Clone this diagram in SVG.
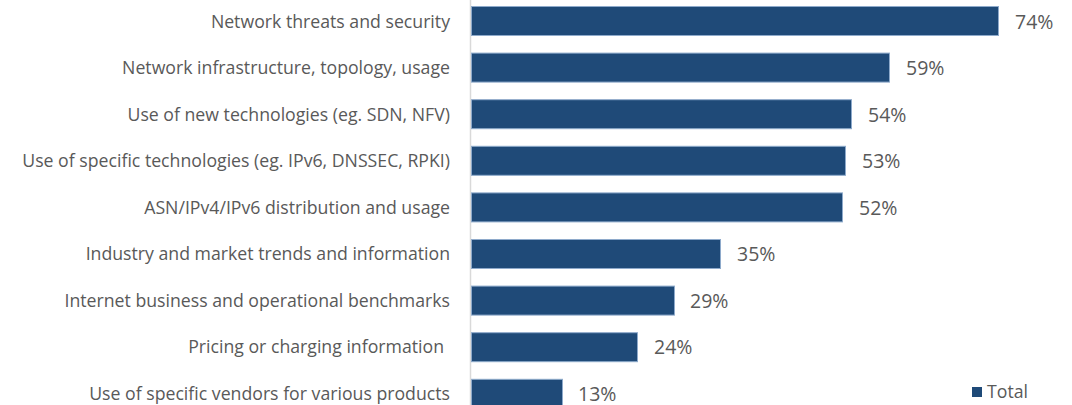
<svg xmlns="http://www.w3.org/2000/svg" width="1072" height="405" viewBox="0 0 1072 405">
<style>
.lbl{font-family:"Open Sans","Liberation Sans",sans-serif;font-size:17.7px;fill:#595959;text-anchor:end}
.val{font-family:"Open Sans","Liberation Sans",sans-serif;font-size:19.5px;fill:#595959}
.bar{fill:#1f4a78;stroke:#8eaacb;stroke-width:1}
.axis{stroke:#d9d9d9;stroke-width:1.5}
</style>
<rect width="1072" height="405" fill="#ffffff"/>
<line class="axis" x1="470.5" y1="0" x2="470.5" y2="405"/>
<g id="bar1"><text class="lbl" x="450" y="27.5">Network threats and security</text><rect class="bar" x="471.5" y="6.5" width="527" height="29"/><text class="val" x="1015" y="28.5">74%</text></g>
<g id="bar2"><text class="lbl" x="450" y="74">Network infrastructure, topology, usage</text><rect class="bar" x="471.5" y="53.1" width="418" height="29"/><text class="val" x="906" y="75">59%</text></g>
<g id="bar3"><text class="lbl" x="450" y="120.5">Use of new technologies (eg. SDN, NFV)</text><rect class="bar" x="471.5" y="99.7" width="380" height="29"/><text class="val" x="868" y="121.5">54%</text></g>
<g id="bar4"><text class="lbl" x="450" y="167">Use of specific technologies (eg. IPv6, DNSSEC, RPKI)</text><rect class="bar" x="471.5" y="146.3" width="374" height="29"/><text class="val" x="862" y="168">53%</text></g>
<g id="bar5"><text class="lbl" x="450" y="213.5">ASN/IPv4/IPv6 distribution and usage</text><rect class="bar" x="471.5" y="192.9" width="371" height="29"/><text class="val" x="859" y="214.5">52%</text></g>
<g id="bar6"><text class="lbl" x="450" y="260">Industry and market trends and information</text><rect class="bar" x="471.5" y="239.5" width="249" height="29"/><text class="val" x="737" y="261">35%</text></g>
<g id="bar7"><text class="lbl" x="450" y="306.5">Internet business and operational benchmarks</text><rect class="bar" x="471.5" y="286.1" width="203" height="29"/><text class="val" x="690" y="307.5">29%</text></g>
<g id="bar8"><text class="lbl" x="444" y="353">Pricing or charging information</text><rect class="bar" x="471.5" y="332.7" width="166" height="29"/><text class="val" x="654" y="354">24%</text></g>
<g id="bar9"><text class="lbl" x="450" y="399.5">Use of specific vendors for various products</text><rect class="bar" x="471.5" y="379.3" width="91" height="29"/><text class="val" x="578" y="400.5">13%</text></g>
<g id="legend"><rect x="972" y="387" width="10" height="10" fill="#1f4a78"/><text x="987" y="398" style="font-family:'Open Sans','Liberation Sans',sans-serif;font-size:17.7px;fill:#595959">Total</text></g>
</svg>
